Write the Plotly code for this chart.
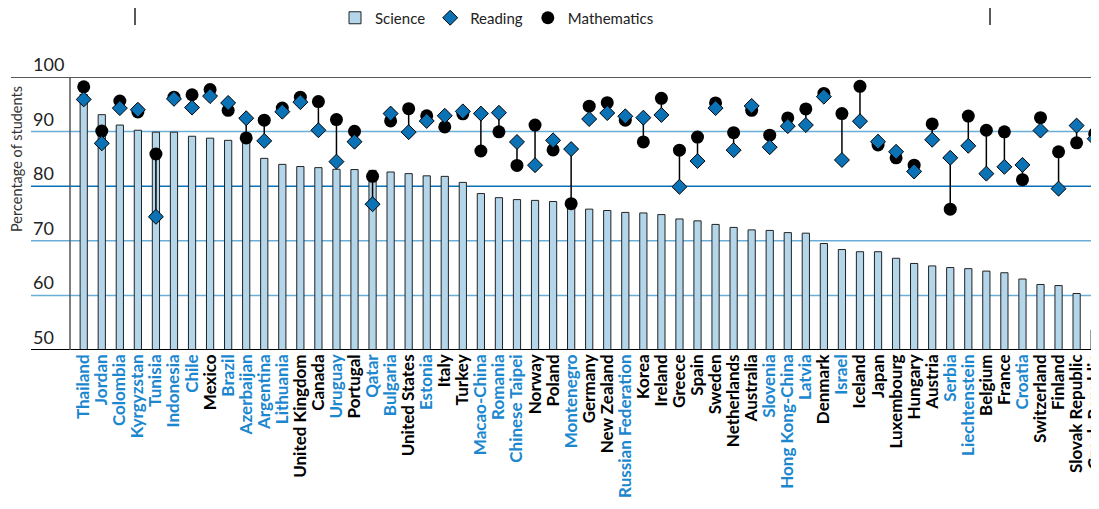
import plotly.graph_objects as go

countries = ["Thailand", "Jordan", "Colombia", "Kyrgyzstan", "Tunisia", "Indonesia", "Chile", "Mexico",
             "Brazil", "Azerbaijan", "Argentina", "Lithuania", "United Kingdom", "Canada", "Uruguay",
             "Portugal", "Qatar", "Bulgaria", "United States", "Estonia", "Italy", "Turkey", "Macao-China",
             "Romania", "Chinese Taipei", "Norway", "Poland", "Montenegro", "Germany", "New Zealand",
             "Russian Federation", "Korea", "Ireland", "Greece", "Spain", "Sweden", "Netherlands",
             "Australia", "Slovenia", "Hong Kong-China", "Latvia", "Denmark", "Israel", "Iceland", "Japan",
             "Luxembourg", "Hungary", "Austria", "Serbia", "Liechtenstein", "Belgium", "France", "Croatia",
             "Switzerland", "Finland", "Slovak Republic", "Czech Republic"]

partners = {"Thailand", "Jordan", "Colombia", "Kyrgyzstan", "Tunisia", "Indonesia", "Chile", "Brazil",
            "Azerbaijan", "Argentina", "Lithuania", "Uruguay", "Qatar", "Bulgaria", "Estonia",
            "Macao-China", "Romania", "Chinese Taipei", "Montenegro", "Russian Federation", "Slovenia",
            "Hong Kong-China", "Latvia", "Israel", "Serbia", "Liechtenstein", "Croatia"}

science = [96.8, 93.1, 91.2, 90.25, 89.9, 89.9, 89.15, 88.8, 88.4, 88.2, 85.1, 84.0, 83.6, 83.4, 83.1,
           83.05, 82.9, 82.6, 82.3, 81.9, 81.8, 80.7, 78.65, 77.9, 77.55, 77.4, 77.2, 76.95, 75.8, 75.55,
           75.2, 75.1, 74.8, 74.0, 73.65, 73.0, 72.45, 72.0, 71.9, 71.5, 71.4, 69.5, 68.4, 68.0, 68.0,
           66.8, 65.85, 65.4, 65.1, 64.9, 64.45, 64.15, 63.0, 62.0, 61.8, 60.35, 53.7]

reading = [95.9, 87.85, 94.3, 94.0, 74.4, 96.0, 94.4, 96.5, 95.25, 92.45, 88.3, 93.65, 95.4, 90.25, 84.5,
           88.15, 76.7, 93.3, 89.9, 91.95, 92.9, 93.7, 93.3, 93.45, 88.1, 83.85, 88.4, 86.8, 92.3, 93.4,
           92.8, 92.55, 93.05, 79.9, 84.6, 94.3, 86.6, 94.7, 87.15, 91.0, 91.2, 96.4, 84.8, 91.9, 88.15,
           86.3, 82.7, 88.5, 85.2, 87.4, 82.3, 83.55, 83.9, 90.2, 79.55, 91.1, 88.7]

mathematics = [98.2, 90.1, 95.6, 93.6, 85.9, 96.3, 96.75, 97.7, 93.9, 88.85, 92.1, 94.3, 96.3, 95.5, 92.2,
               90.05, 81.8, 91.95, 94.2, 92.9, 90.85, 93.25, 86.45, 89.95, 83.8, 91.2, 86.65, 76.8, 94.65,
               95.3, 92.1, 88.1, 96.1, 86.6, 89.0, 95.25, 89.8, 93.9, 89.35, 92.5, 94.15, 97.0, 93.3, 98.3,
               87.55, 85.2, 83.85, 91.4, 75.8, 92.85, 90.25, 89.95, 81.2, 92.55, 86.3, 87.95, 89.6]

y_ticks = [100, 90, 80, 70, 60, 50]

BLUE_LABEL = "#1b87cf"
FONT = "Lato"

# the page places the figure 8px in from the top-left corner (default body margin)
OFF = 8
W, H = 1099 - OFF, 509 - OFF
ML, MR, MT, MB = 70 - OFF, 0, 77 - OFF, 509 - 350
PW = W - ML - MR
PH = H - MT - MB


def px_x(page_x):
    return (page_x - OFF - ML) / PW


def px_y(page_y):
    return (H - MB - (page_y - OFF)) / PH


fig = go.Figure()

fig.add_trace(go.Bar(
    x=countries, y=science, name="Science", width=0.4,
    marker=dict(color="#b4d6ea", line=dict(color="#222222", width=1)),
    legendrank=1,
))

lx, ly = [], []
for c, r, m in zip(countries, reading, mathematics):
    lx += [c, c, None]
    ly += [r, m, None]
fig.add_trace(go.Scatter(x=lx, y=ly, mode="lines", line=dict(color="#000000", width=1.5),
                         showlegend=False, hoverinfo="skip"))

fig.add_trace(go.Scatter(
    x=countries, y=mathematics, name="Mathematics", mode="markers",
    marker=dict(symbol="circle", size=13, color="#000000"),
    legendrank=3,
))
fig.add_trace(go.Scatter(
    x=countries, y=reading, name="Reading", mode="markers",
    marker=dict(symbol="diamond", size=11.5, color="#0b72b5", line=dict(color="#000000", width=1)),
    legendrank=2,
))

ticktext = [
    f"<b><span style='color:{BLUE_LABEL}'>{c}</span></b>" if c in partners else f"<b>{c}</b>"
    for c in countries
]

shapes = []
for v in [90, 70, 60]:
    shapes.append(dict(type="line", xref="paper", yref="y", x0=px_x(31), x1=1, y0=v, y1=v,
                       line=dict(color="#6aaed8", width=1.5), layer="below"))
shapes.append(dict(type="line", xref="paper", yref="y", x0=px_x(31), x1=1, y0=80, y1=80,
                   line=dict(color="#0a70b8", width=1.5), layer="below"))
shapes.append(dict(type="line", xref="paper", yref="y", x0=px_x(11), x1=1, y0=100, y1=100,
                   line=dict(color="#222222", width=1.5)))
shapes.append(dict(type="line", xref="paper", yref="y", x0=px_x(31), x1=1, y0=50, y1=50,
                   line=dict(color="#000000", width=2)))
shapes.append(dict(type="line", xref="paper", yref="paper", x0=0, x1=0, y0=0, y1=1,
                   line=dict(color="#555555", width=1.5)))
for xp in [135, 990]:
    shapes.append(dict(type="line", xref="paper", yref="paper", x0=px_x(xp), x1=px_x(xp),
                       y0=px_y(0), y1=px_y(25), line=dict(color="#222222", width=1.5)))

annotations = []
for v in y_ticks:
    annotations.append(dict(xref="paper", yref="y", x=px_x(31), y=v, yshift=13, text=str(v),
                            showarrow=False, xanchor="left", yanchor="middle",
                            font=dict(family=FONT, size=18, color="#222222")))
annotations.append(dict(xref="paper", yref="paper", x=px_x(16), y=px_y(159), text="Percentage of students",
                        textangle=-90, showarrow=False, xanchor="center", yanchor="middle",
                        font=dict(family=FONT, size=14.5, color="#333333")))

fig.update_layout(
    template="none",
    width=W, height=H,
    margin=dict(l=ML, r=MR, t=MT, b=MB, pad=0, autoexpand=False),
    plot_bgcolor="white", paper_bgcolor="white",
    bargap=0.6,
    showlegend=True,
    legend=dict(orientation="h", x=px_x(335), y=px_y(18), xanchor="left", yanchor="middle",
                font=dict(family=FONT, size=15, color="#222222"), bgcolor="rgba(0,0,0,0)",
                traceorder="normal", itemwidth=30),
    xaxis=dict(type="category", range=[-0.76, 56.24], tickmode="array", tickvals=countries,
               ticktext=ticktext, tickangle=-90, showgrid=False, zeroline=False, showline=False,
               automargin=False, ticks="", tickfont=dict(family=FONT, size=17, color="#000000")),
    yaxis=dict(range=[50, 100], showgrid=False, zeroline=False, showticklabels=False, showline=False,
               automargin=False, ticks=""),
    shapes=shapes,
    annotations=annotations,
    font=dict(family=FONT),
)

fig.write_html("out.html")
